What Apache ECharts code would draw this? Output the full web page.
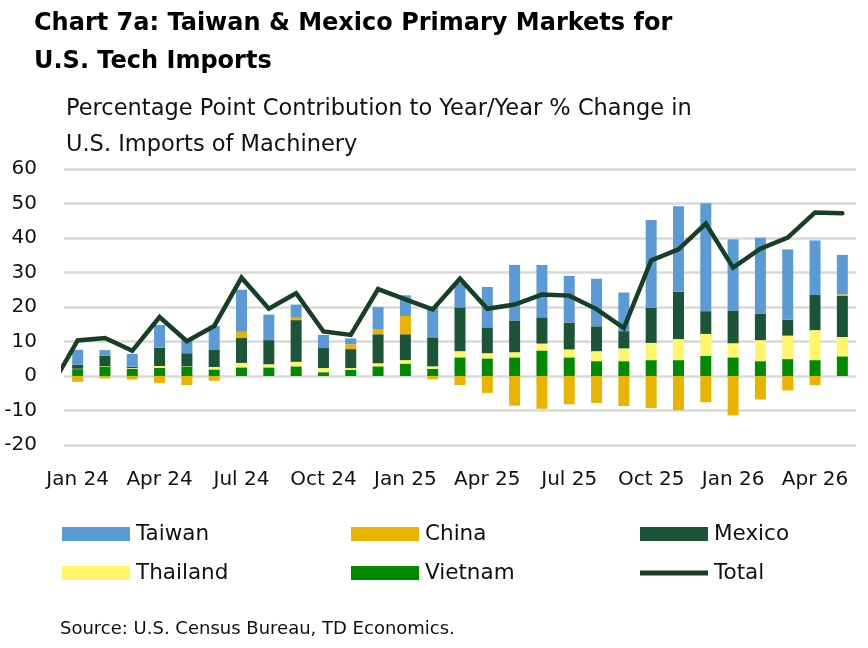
<!DOCTYPE html>
<html>
<head>
<meta charset="utf-8">
<script src="https://cdn.jsdelivr.net/npm/echarts@6/dist/echarts.min.js"></script>
<style>
html,body{margin:0;padding:0;background:#fff;}
#chart{width:868px;height:648px;}
</style>
</head>
<body>
<div id="chart"></div>
<script>
const months = ['Jan 24','Feb 24','Mar 24','Apr 24','May 24','Jun 24','Jul 24','Aug 24','Sep 24','Oct 24','Nov 24','Dec 24',
  'Jan 25','Feb 25','Mar 25','Apr 25','May 25','Jun 25','Jul 25','Aug 25','Sep 25','Oct 25','Nov 25','Dec 25',
  'Jan 26','Feb 26','Mar 26','Apr 26','May 26'];
const vietnam  = [2.0,2.8,2.1,2.4,2.7,1.9,2.5,2.5,2.8,1.1,1.8,2.8,3.6,2.1,5.4,5.1,5.4,7.4,5.4,4.3,4.3,4.6,4.6,5.8,5.4,4.3,4.9,4.6,5.7];
const thailand = [0.1,0.1,0.2,0.5,0.1,0.7,1.3,0.9,1.3,1.2,0.5,0.9,1.0,0.7,1.8,1.5,1.5,2.0,2.3,2.9,3.7,5.0,6.1,6.4,4.1,6.1,6.8,8.7,5.6];
const mexico   = [1.2,3.0,0.4,5.3,3.8,5.1,7.2,7.0,12.1,5.8,5.5,8.4,7.5,8.4,12.7,7.5,9.2,7.6,7.8,7.2,5.0,10.2,13.7,6.6,9.5,7.6,4.6,10.2,11.9];
const china    = [-1.7,-0.7,-1.0,-2.0,-2.6,-1.4,1.8,0,0.7,0,1.4,1.5,5.3,-0.9,-2.6,-4.9,-8.6,-9.5,-8.2,-7.8,-8.7,-9.3,-9.9,-7.6,-11.4,-6.8,-4.2,-2.6,0.5];
const taiwan   = [4.3,1.6,3.7,6.6,3.9,6.8,12.2,7.4,3.8,3.8,1.7,6.4,6.0,8.8,7.0,11.7,16.1,15.2,13.5,13.8,11.2,25.4,24.8,31.3,20.6,22.1,20.4,15.8,11.4];
// Total: first value is Dec 23 (clipped at the plot's left edge)
const totalStartIndex = -1;
const total = [-3.5,10.3,11.0,7.3,17.1,10.1,14.5,28.5,19.5,24.0,12.9,11.9,25.2,22.2,19.3,28.2,19.5,20.7,23.6,23.3,19.4,13.9,33.5,36.7,44.2,31.4,36.9,40.1,47.4,47.2];
const yTicks = {min:-20, max:60, interval:10};

const colors = {Taiwan:'#5b9bd5', China:'#e9b400', Mexico:'#1c5437', Thailand:'#fff56a', Vietnam:'#008a00', Total:'#163f26'};
const FONT = '"DejaVu Sans"';

const chart = echarts.init(document.getElementById('chart'), null, {renderer:'canvas'});

function bar(name, data){
  return {name, type:'bar', stack:'s', data, barWidth:11, xAxisIndex:0, yAxisIndex:0,
    itemStyle:{color:colors[name]}, emphasis:{disabled:true}};
}
function legendAt(name, left, top, extra){
  return Object.assign({data:[{name, icon:'rect'}], left, top, itemWidth:68, itemHeight:14, itemGap:0,
    textStyle:{fontFamily:FONT, fontSize:21.5, color:'#111', padding:[0,0,0,1]}, selectedMode:false, padding:0}, extra||{});
}

const option = {
  animation:false,
  title:[
    {text:'Chart 7a: Taiwan & Mexico Primary Markets for\nU.S. Tech Imports', left:34, top:5, padding:0,
      textStyle:{fontFamily:FONT, fontWeight:'bold', fontSize:24, lineHeight:38, color:'#000'}},
    {text:'Percentage Point Contribution to Year/Year % Change in\nU.S. Imports of Machinery', left:66, top:91, padding:0,
      textStyle:{fontFamily:FONT, fontWeight:'normal', fontSize:22.5, lineHeight:36, color:'#111'}},
    {text:'Source: U.S. Census Bureau, TD Economics.', left:60, top:620, padding:0,
      textStyle:{fontFamily:FONT, fontWeight:'normal', fontSize:18, color:'#111'}}
  ],
  legend:[
    legendAt('Taiwan',62,523), legendAt('China',351,523), legendAt('Mexico',640,523),
    legendAt('Thailand',62,562), legendAt('Vietnam',351,562),
    legendAt('Total',640,562,{itemHeight:5})
  ],
  grid:{left:64, right:12, top:169, bottom:203, containLabel:false},
  xAxis:[
    {type:'category', data:months, boundaryGap:true,
      axisLine:{show:false, onZero:false}, axisTick:{show:false},
      axisLabel:{interval:2, margin:25, fontFamily:FONT, fontSize:20, color:'#111'}},
    {type:'value', min:-0.5, max:months.length-0.5, show:false}
  ],
  yAxis:{type:'value', min:yTicks.min, max:yTicks.max, interval:yTicks.interval,
    axisLine:{show:false}, axisTick:{show:false},
    axisLabel:{margin:27, fontFamily:FONT, fontSize:20, color:'#111'},
    splitLine:{lineStyle:{color:'#d9d9d9', width:2.5}}},
  series:[
    bar('Vietnam', vietnam),
    bar('Thailand', thailand),
    bar('Mexico', mexico),
    bar('China', china),
    bar('Taiwan', taiwan),
    {name:'Total', type:'line', xAxisIndex:1, yAxisIndex:0, clip:true,
      data: total.map((v,i)=>[i+totalStartIndex, v]),
      symbol:'none', itemStyle:{color:colors.Total},
      lineStyle:{color:colors.Total, width:4.5, cap:'round', join:'miter'}, emphasis:{disabled:true}, z:5}
  ]
};
chart.setOption(option);
</script>
</body>
</html>
